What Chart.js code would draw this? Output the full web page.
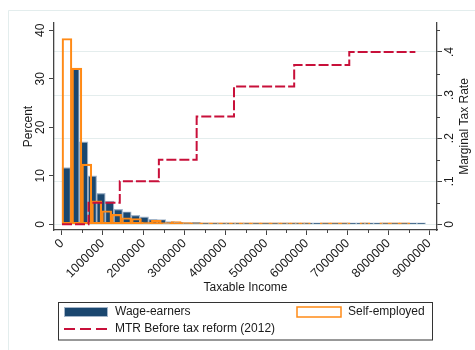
<!DOCTYPE html>
<html>
<head>
<meta charset="utf-8">
<script src="https://cdn.jsdelivr.net/npm/chart.js@4/dist/chart.umd.min.js"></script>
<style>
  html, body { margin: 0; padding: 0; background: #fff; }
</style>
</head>
<body>
<canvas id="histChart" width="475" height="350"></canvas>
<script>
// histogram bins (share of taxpayers, %) - wage-earners
const wageBinWidth = 212100;
const wageShare = [11.7, 32.0, 17.0, 10.0, 6.4, 4.8, 3.1, 2.6, 1.85, 1.55,
  1.03, 1.0, 0.55, 0.4, 0.35, 0.4, 0.3, 0.3, 0.3, 0.3,
  0.3, 0.3, 0.3, 0.3, 0.3, 0.3, 0.3, 0.3, 0.3, 0.3,
  0.3, 0.3, 0.3, 0.3, 0.3, 0.3, 0.3, 0.3, 0.3, 0.3,
  0.3, 0.3];

// self-employed (null = empty bin)
const selfBinWidth = 243400;
const selfShare = [38.3, 32.2, 12.4, 4.86, 2.8, 2.05, 1.35, 1.2, 0.45, 0.8,
  0.35, 0.55, 0.35, 0.3, 0.3, 0.3, 0.3, 0.3, 0.3, 0.3,
  0.3, 0.3, 0.3, 0.3, 0.3, null, 0.3, 0.3, 0.3, null,
  0.3, null, 0.3, 0.3, 0.3];

// marginal tax rate schedule before the 2012 reform
const mtrIncome = [0, 650000, 1416000, 2374000, 3300000, 4215000, 5690000, 7040000, 8660000];
const mtrRate = [0, 0.05, 0.10, 0.15, 0.25, 0.32, 0.37, 0.40, 0.40];

// axis ticks (labelled ones; the rest are minor marks)
const incomeTicks = [0, 1000000, 2000000, 3000000, 4000000, 5000000, 6000000, 7000000, 8000000, 9000000];
const incomeMinor = [500000, 1500000, 2500000, 3500000, 4500000, 5500000, 6500000, 7500000, 8500000];
const percentTicks = [0, 10, 20, 30, 40];
const rateTicks = [0, 0.1, 0.2, 0.3, 0.4];
const rateMinor = [0.05, 0.15, 0.25, 0.35, 0.45];

const navy = '#1a476f';
const navyEdge = '#a3b5c9';
const orange = '#ff8a16';
const cranberry = '#c8103a';
const axisColor = '#444';
const gridColor = '#e4eded';
const clear = 'rgba(0,0,0,0)';
const xMin = -196000, xMax = 9190000;

Chart.defaults.font.family = '"Liberation Sans", Arial, Helvetica, sans-serif';
Chart.defaults.font.size = 12;
Chart.defaults.color = '#1a1a1a';

const bins = (share, width) => share.map((v, i) => ({ x: (i + 0.5) * width, y: v }));
const setTicks = (major, minor) => s => {
  s.ticks = major.concat(minor).sort((a, b) => a - b).map(v => ({ value: v, major: major.includes(v) }));
};
const incomeLabel = v => incomeTicks.includes(v) ? String(v) : '';
const rateLabel = v => rateTicks.includes(v) ? (v === 0 ? '0' : v.toFixed(1).replace(/^0/, '')) : '';
const majorTickColor = list => c => (c.tick && list.includes(c.tick.value)) ? axisColor : clear;

const frame = {
  id: 'frame',
  beforeDraw(chart) {
    const { ctx, width, height } = chart;
    ctx.save();
    ctx.fillStyle = '#fff';
    ctx.fillRect(0, 0, width, height);
    ctx.strokeStyle = '#e3eded';
    ctx.lineWidth = 1;
    ctx.beginPath();
    ctx.moveTo(8.5, height);
    ctx.lineTo(8.5, 10.5);
    ctx.lineTo(width, 10.5);
    ctx.stroke();
    ctx.restore();
  }
};

// short minor tick marks on the income and rate axes
const minorTicks = {
  id: 'minorTicks',
  afterDraw(chart) {
    const { ctx, chartArea } = chart;
    const { x, y1 } = chart.scales;
    ctx.save();
    ctx.strokeStyle = axisColor;
    ctx.lineWidth = 1;
    ctx.beginPath();
    incomeMinor.forEach(v => {
      const px = Math.round(x.getPixelForValue(v)) + 0.5;
      ctx.moveTo(px, chartArea.bottom);
      ctx.lineTo(px, chartArea.bottom + 3);
    });
    rateMinor.forEach(v => {
      const py = Math.round(y1.getPixelForValue(v)) + 0.5;
      ctx.moveTo(chartArea.right, py);
      ctx.lineTo(chartArea.right + 3, py);
    });
    ctx.stroke();
    ctx.restore();
  }
};

// right-hand title reads bottom to top, like the left one
const rightTitle = {
  id: 'rightTitle',
  afterDraw(chart) {
    const { ctx, chartArea } = chart;
    const s = chart.scales.y1;
    ctx.save();
    ctx.translate(s.right - 10, (chartArea.top + chartArea.bottom) / 2);
    ctx.rotate(-Math.PI / 2);
    ctx.font = '12px "Liberation Sans", Arial, sans-serif';
    ctx.fillStyle = '#1a1a1a';
    ctx.textAlign = 'center';
    ctx.textBaseline = 'middle';
    ctx.fillText('Marginal Tax Rate', 0, 0);
    ctx.restore();
  }
};

const legendBox = {
  id: 'legendBox',
  afterDraw(chart) {
    const { ctx } = chart;
    const [mtr, self, wage] = chart.data.datasets;
    ctx.save();
    ctx.strokeStyle = '#333';
    ctx.lineWidth = 1;
    ctx.strokeRect(58.5, 302.5, 374, 37.5);

    ctx.fillStyle = wage.backgroundColor;
    ctx.fillRect(64, 307, 44, 10);
    ctx.strokeStyle = wage.borderColor;
    ctx.strokeRect(64.5, 307.5, 43, 9);

    ctx.strokeStyle = self.borderColor;
    ctx.lineWidth = 1.5;
    ctx.strokeRect(297, 307, 44, 10);

    ctx.strokeStyle = mtr.borderColor;
    ctx.lineWidth = 2;
    ctx.setLineDash([11, 5]);
    ctx.beginPath();
    ctx.moveTo(64, 329);
    ctx.lineTo(108, 329);
    ctx.stroke();
    ctx.setLineDash([]);

    ctx.font = '12px "Liberation Sans", Arial, sans-serif';
    ctx.fillStyle = '#1a1a1a';
    ctx.textBaseline = 'middle';
    ctx.fillText(wage.label, 115, 312);
    ctx.fillText(self.label, 348, 312);
    ctx.fillText(mtr.label, 115, 329);
    ctx.restore();
  }
};

new Chart(document.getElementById('histChart'), {
  data: {
    datasets: [
      {
        type: 'line',
        label: 'MTR Before tax reform (2012)',
        data: mtrIncome.map((x, i) => ({ x: x, y: mtrRate[i] })),
        xAxisID: 'x',
        yAxisID: 'y1',
        stepped: 'before',
        borderColor: cranberry,
        borderWidth: 2,
        borderDash: [10, 3],
        pointRadius: 0,
        fill: false,
        order: 1
      },
      {
        type: 'bar',
        label: 'Self-employed',
        data: bins(selfShare, selfBinWidth),
        xAxisID: 'x2',
        yAxisID: 'y',
        backgroundColor: clear,
        borderColor: orange,
        borderWidth: 1.5,
        borderSkipped: false,
        grouped: false,
        barPercentage: 1,
        categoryPercentage: 1,
        order: 2
      },
      {
        type: 'bar',
        label: 'Wage-earners',
        data: bins(wageShare, wageBinWidth),
        xAxisID: 'x',
        yAxisID: 'y',
        backgroundColor: navy,
        borderColor: navyEdge,
        borderWidth: 1.2,
        borderSkipped: false,
        grouped: false,
        barPercentage: 1,
        categoryPercentage: 1,
        order: 3
      }
    ]
  },
  options: {
    responsive: false,
    animation: false,
    layout: { padding: { top: 23, left: 0, right: 0, bottom: 0 } },
    plugins: { legend: { display: false }, tooltip: { enabled: false } },
    scales: {
      x: {
        type: 'linear',
        position: 'bottom',
        bounds: 'data',
        offset: false,
        min: xMin,
        max: xMax,
        afterBuildTicks: setTicks(incomeTicks, incomeMinor),
        ticks: {
          autoSkip: false,
          minRotation: 45,
          maxRotation: 45,
          padding: 1,
          font: { size: 12.5 },
          color: '#1a1a1a',
          callback: incomeLabel
        },
        grid: { offset: false, drawOnChartArea: false, tickLength: 5, tickColor: majorTickColor(incomeTicks), tickWidth: 1 },
        border: { color: axisColor, width: 1.3 },
        title: { display: true, text: 'Taxable Income', padding: { top: 0, bottom: 55 } },
        afterFit: s => { s.height = 120; }
      },
      x2: {
        type: 'linear',
        display: false,
        bounds: 'data',
        offset: false,
        min: xMin,
        max: xMax,
        afterBuildTicks: setTicks(incomeTicks, incomeMinor),
        grid: { offset: false }
      },
      y: {
        type: 'linear',
        position: 'left',
        bounds: 'data',
        min: -1.17,
        max: 41.5,
        afterBuildTicks: setTicks(percentTicks, []),
        ticks: {
          minRotation: 90,
          maxRotation: 90,
          crossAlign: 'center',
          padding: 2,
          color: '#1a1a1a'
        },
        grid: { drawOnChartArea: false, tickLength: 5, tickColor: axisColor },
        border: { color: axisColor, width: 1.3 },
        title: { display: true, text: 'Percent', padding: { top: 21, bottom: 0 } },
        afterFit: s => { s.width = 54; }
      },
      y1: {
        type: 'linear',
        position: 'right',
        bounds: 'data',
        min: -0.0132,
        max: 0.4672,
        afterBuildTicks: setTicks(rateTicks, rateMinor),
        ticks: {
          minRotation: 90,
          maxRotation: 90,
          crossAlign: 'center',
          padding: 3,
          color: '#1a1a1a',
          callback: rateLabel
        },
        grid: {
          color: c => (c.tick && rateTicks.includes(c.tick.value)) ? gridColor : clear,
          tickColor: majorTickColor(rateTicks),
          tickLength: 5
        },
        border: { color: axisColor, width: 1.3 },
        afterFit: s => { s.width = 38; }
      }
    }
  },
  plugins: [frame, minorTicks, rightTitle, legendBox]
});
</script>
</body>
</html>
